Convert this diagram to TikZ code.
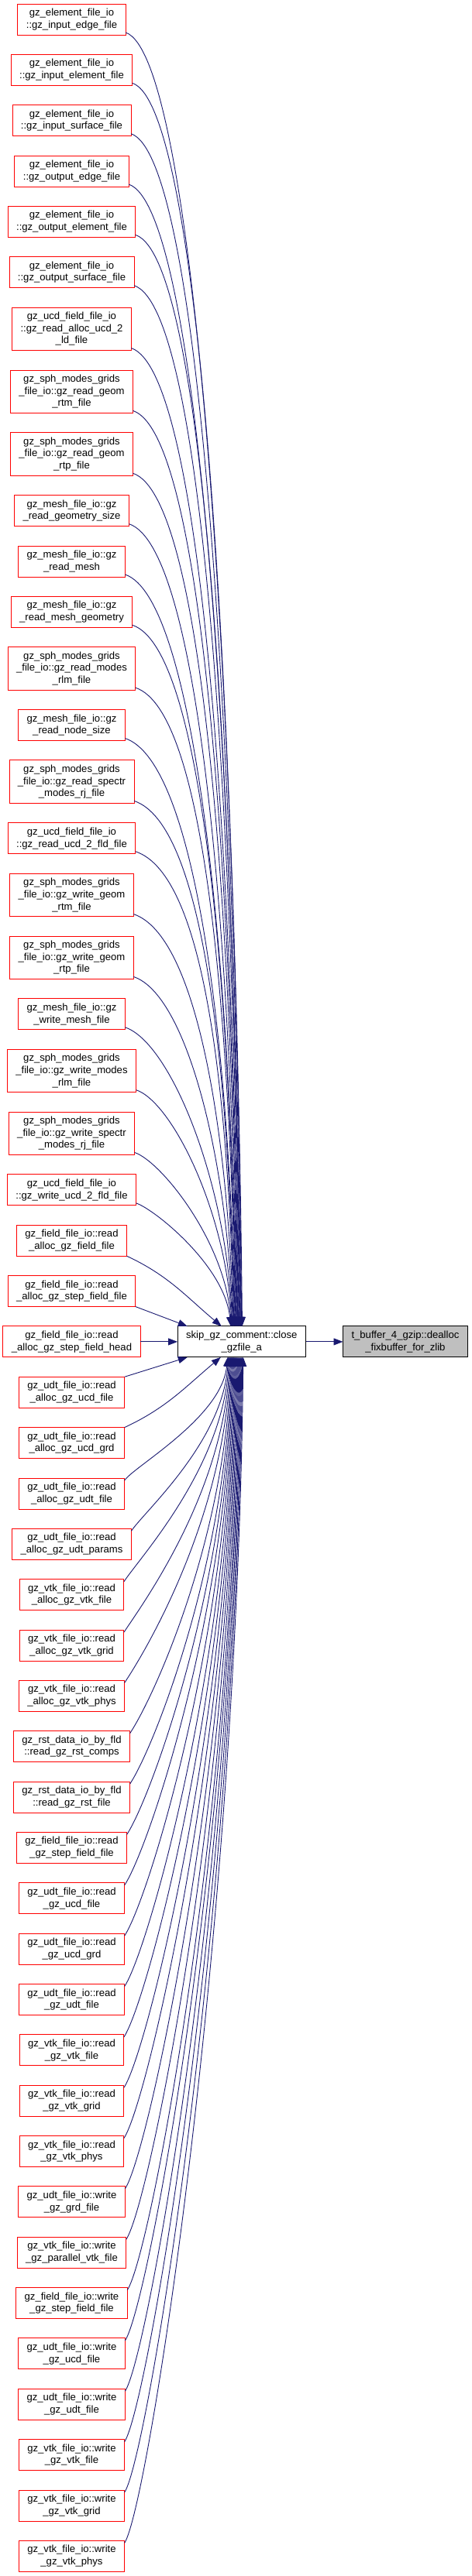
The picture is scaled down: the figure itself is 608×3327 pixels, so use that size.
\documentclass[tikz,border=0pt]{standalone}
\usepackage{fontspec}
\setmainfont{Liberation Sans}
\usetikzlibrary{arrows.meta,positioning,calc}
\definecolor{callblue}{HTML}{191970}
\definecolor{callred}{HTML}{FF0000}
\definecolor{leafgray}{HTML}{BFBFBF}

\begin{document}
\begin{tikzpicture}[x=1pt,y=-1pt,
  box/.style={draw,line width=0.9pt,align=center,inner xsep=11pt,inner ysep=2pt,outer sep=0pt,
    minimum height=40pt,font=\fontsize{13.1pt}{15.7pt}\selectfont},
  caller/.style={box,draw=callred},
  tall/.style={minimum height=55.5pt},
  call/.style={callblue,line width=0.9pt,-{Triangle[length=12pt,width=9pt]}},
  node distance=25.35pt]
  \useasboundingbox (0,0) rectangle (608,3327);
  % callers above the main node
  \node[caller] (n1) at (92.5,25) {gz\_element\_file\_io\\::gz\_input\_edge\_file};
  \node[caller,below=of n1] (n2) {gz\_element\_file\_io\\::gz\_input\_element\_file};
  \node[caller,below=of n2] (n3) {gz\_element\_file\_io\\::gz\_input\_surface\_file};
  \node[caller,below=of n3] (n4) {gz\_element\_file\_io\\::gz\_output\_edge\_file};
  \node[caller,below=of n4] (n5) {gz\_element\_file\_io\\::gz\_output\_element\_file};
  \node[caller,below=of n5] (n6) {gz\_element\_file\_io\\::gz\_output\_surface\_file};
  \node[caller,tall,below=of n6] (n7) {gz\_ucd\_field\_file\_io\\::gz\_read\_alloc\_ucd\_2\\\_ld\_file};
  \node[caller,tall,below=of n7] (n8) {gz\_sph\_modes\_grids\\\_file\_io::gz\_read\_geom\\\_rtm\_file};
  \node[caller,tall,below=of n8] (n9) {gz\_sph\_modes\_grids\\\_file\_io::gz\_read\_geom\\\_rtp\_file};
  \node[caller,below=of n9] (n10) {gz\_mesh\_file\_io::gz\\\_read\_geometry\_size};
  \node[caller,below=of n10] (n11) {gz\_mesh\_file\_io::gz\\\_read\_mesh};
  \node[caller,below=of n11] (n12) {gz\_mesh\_file\_io::gz\\\_read\_mesh\_geometry};
  \node[caller,tall,below=of n12] (n13) {gz\_sph\_modes\_grids\\\_file\_io::gz\_read\_modes\\\_rlm\_file};
  \node[caller,below=of n13] (n14) {gz\_mesh\_file\_io::gz\\\_read\_node\_size};
  \node[caller,tall,below=of n14] (n15) {gz\_sph\_modes\_grids\\\_file\_io::gz\_read\_spectr\\\_modes\_rj\_file};
  \node[caller,below=of n15] (n16) {gz\_ucd\_field\_file\_io\\::gz\_read\_ucd\_2\_fld\_file};
  \node[caller,tall,below=of n16] (n17) {gz\_sph\_modes\_grids\\\_file\_io::gz\_write\_geom\\\_rtm\_file};
  \node[caller,tall,below=of n17] (n18) {gz\_sph\_modes\_grids\\\_file\_io::gz\_write\_geom\\\_rtp\_file};
  \node[caller,below=of n18] (n19) {gz\_mesh\_file\_io::gz\\\_write\_mesh\_file};
  \node[caller,tall,below=of n19] (n20) {gz\_sph\_modes\_grids\\\_file\_io::gz\_write\_modes\\\_rlm\_file};
  \node[caller,tall,below=of n20] (n21) {gz\_sph\_modes\_grids\\\_file\_io::gz\_write\_spectr\\\_modes\_rj\_file};
  \node[caller,below=of n21] (n22) {gz\_ucd\_field\_file\_io\\::gz\_write\_ucd\_2\_fld\_file};
  \node[caller,below=of n22] (n23) {gz\_field\_file\_io::read\\\_alloc\_gz\_field\_file};
  \node[caller,below=of n23] (n24) {gz\_field\_file\_io::read\\\_alloc\_gz\_step\_field\_file};
  \node[caller,below=of n24] (n25) {gz\_field\_file\_io::read\\\_alloc\_gz\_step\_field\_head};
  % callers below the main node
  \node[caller,below=of n25] (n26) {gz\_udt\_file\_io::read\\\_alloc\_gz\_ucd\_file};
  \node[caller,below=of n26] (n27) {gz\_udt\_file\_io::read\\\_alloc\_gz\_ucd\_grd};
  \node[caller,below=of n27] (n28) {gz\_udt\_file\_io::read\\\_alloc\_gz\_udt\_file};
  \node[caller,below=of n28] (n29) {gz\_udt\_file\_io::read\\\_alloc\_gz\_udt\_params};
  \node[caller,below=of n29] (n30) {gz\_vtk\_file\_io::read\\\_alloc\_gz\_vtk\_file};
  \node[caller,below=of n30] (n31) {gz\_vtk\_file\_io::read\\\_alloc\_gz\_vtk\_grid};
  \node[caller,below=of n31] (n32) {gz\_vtk\_file\_io::read\\\_alloc\_gz\_vtk\_phys};
  \node[caller,below=of n32] (n33) {gz\_rst\_data\_io\_by\_fld\\::read\_gz\_rst\_comps};
  \node[caller,below=of n33] (n34) {gz\_rst\_data\_io\_by\_fld\\::read\_gz\_rst\_file};
  \node[caller,below=of n34] (n35) {gz\_field\_file\_io::read\\\_gz\_step\_field\_file};
  \node[caller,below=of n35] (n36) {gz\_udt\_file\_io::read\\\_gz\_ucd\_file};
  \node[caller,below=of n36] (n37) {gz\_udt\_file\_io::read\\\_gz\_ucd\_grd};
  \node[caller,below=of n37] (n38) {gz\_udt\_file\_io::read\\\_gz\_udt\_file};
  \node[caller,below=of n38] (n39) {gz\_vtk\_file\_io::read\\\_gz\_vtk\_file};
  \node[caller,below=of n39] (n40) {gz\_vtk\_file\_io::read\\\_gz\_vtk\_grid};
  \node[caller,below=of n40] (n41) {gz\_vtk\_file\_io::read\\\_gz\_vtk\_phys};
  \node[caller,below=of n41] (n42) {gz\_udt\_file\_io::write\\\_gz\_grd\_file};
  \node[caller,below=of n42] (n43) {gz\_vtk\_file\_io::write\\\_gz\_parallel\_vtk\_file};
  \node[caller,below=of n43] (n44) {gz\_field\_file\_io::write\\\_gz\_step\_field\_file};
  \node[caller,below=of n44] (n45) {gz\_udt\_file\_io::write\\\_gz\_ucd\_file};
  \node[caller,below=of n45] (n46) {gz\_udt\_file\_io::write\\\_gz\_udt\_file};
  \node[caller,below=of n46] (n47) {gz\_vtk\_file\_io::write\\\_gz\_vtk\_file};
  \node[caller,below=of n47] (n48) {gz\_vtk\_file\_io::write\\\_gz\_vtk\_grid};
  \node[caller,below=of n48] (n49) {gz\_vtk\_file\_io::write\\\_gz\_vtk\_phys};
  % main node and the one it calls
  \node[box,draw=black,right=48pt of n25] (cl) {skip\_gz\_comment::close\\\_gzfile\_a};
  \node[box,draw=black,fill=leafgray,right=48pt of cl] (buf) {t\_buffer\_4\_gzip::dealloc\\\_fixbuffer\_for\_zlib};

  % calls from above
  \foreach \i in {1,...,22} {
    \pgfmathsetmacro{\dx}{0.7*(22-\i)-14}
    \draw[call] let \p1=([yshift=3pt]n\i.south east), \p2=([xshift=\dx pt]cl.north) in
      (\p1) .. controls +({90*min(1,((\y1)-(\y2))/600)},{-30*min(1,((\y1)-(\y2))/600)})
      and +(-8pt,{0.49*((\y1)-(\y2))}) .. (\p2);
  }
  \draw[call] (n23.south east) to[out=-25,in=140] ([xshift=-26pt]cl.north);
  \draw[call] (n24.south east) -- ([xshift=-70pt]cl.north);
  \draw[call] (n25) -- (cl);
  % calls from below
  \draw[call] (n26.north east) -- ([xshift=-70pt]cl.south);
  \draw[call] (n27.north east) to[out=25,in=-140] ([xshift=-27pt]cl.south);
  \foreach \i in {28,...,49} {
    \pgfmathsetmacro{\dx}{(\i-28)*20/21-18}
    \draw[call] let \p1=([yshift=-3pt]n\i.north east), \p2=([xshift=\dx pt]cl.south) in
      (\p1) .. controls +({30*min(1,((\y2)-(\y1))/400)},{45*min(1,((\y2)-(\y1))/400)})
      and +(-8pt,{-0.49*((\y2)-(\y1))}) .. (\p2);
  }
  \draw[call] (cl) -- (buf);
\end{tikzpicture}
\end{document}
